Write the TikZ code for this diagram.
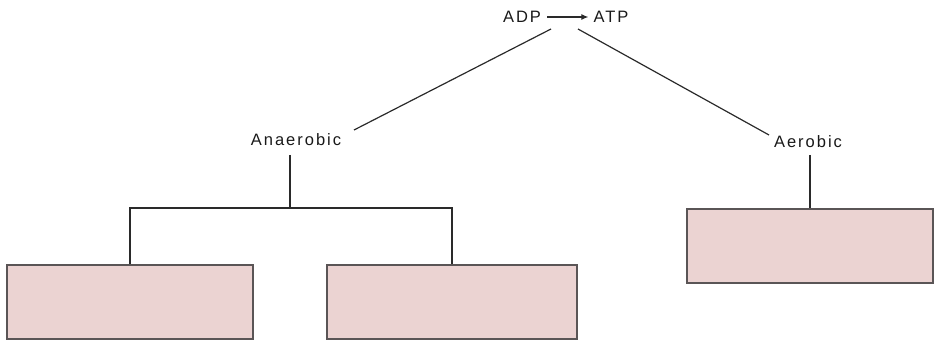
\documentclass[tikz,border=0pt]{standalone}
\usepackage{fontspec}
\setmainfont{Liberation Sans}
\usetikzlibrary{arrows.meta}
\definecolor{boxfill}{HTML}{EBD3D2}
\definecolor{boxline}{HTML}{5A5556}
\definecolor{lineclr}{HTML}{2A2A2A}
\begin{document}
\begin{tikzpicture}[x=1pt,y=-1pt,
  lbl/.style={inner sep=0pt,font=\fontsize{16.5}{18}\selectfont\addfontfeature{LetterSpace=12},text=black!90},
  pinkbox/.style={draw=boxline,fill=boxfill,line width=1.3pt},
  conn/.style={draw=lineclr,line width=1.2pt}]
\useasboundingbox (0,0) rectangle (935,342);
% top
\node[lbl] (adp) at (522,17) {ADP};
\node[lbl] (atp) at (611,17) {ATP};
\draw[conn,-{Latex[length=7pt,width=6pt]}] ([xshift=6pt]adp.east) -- ([xshift=-5pt]atp.west);
% labels
\node[lbl] (anaer) at (296,140) {Anaerobic};
\node[lbl] (aer) at (808,142) {Aerobic};
% boxes
\node[pinkbox,minimum width=246pt,minimum height=74pt,inner sep=0pt] (b1) at (130,302) {};
\node[pinkbox,minimum width=250pt,minimum height=74pt,inner sep=0pt] (b2) at (452,302) {};
\node[pinkbox,minimum width=246pt,minimum height=74pt,inner sep=0pt] (b3) at (810,246) {};
% connectors
\coordinate (l1) at (551,29);
\coordinate (l2) at (354,130);
\coordinate (r1) at (578,29);
\coordinate (r2) at (769,135);
\draw[conn] (l1) -- (l2);
\draw[conn] (r1) -- (r2);
\coordinate (a1) at (290,155);
\coordinate (a2) at (290,208);
\draw[conn] (a1) -- (a2);
\draw[conn] (b1.north) |- (a2) -| (b2.north);
\coordinate (e1) at (810,155);
\draw[conn] (e1) -- (b3.north);
\end{tikzpicture}
\end{document}
